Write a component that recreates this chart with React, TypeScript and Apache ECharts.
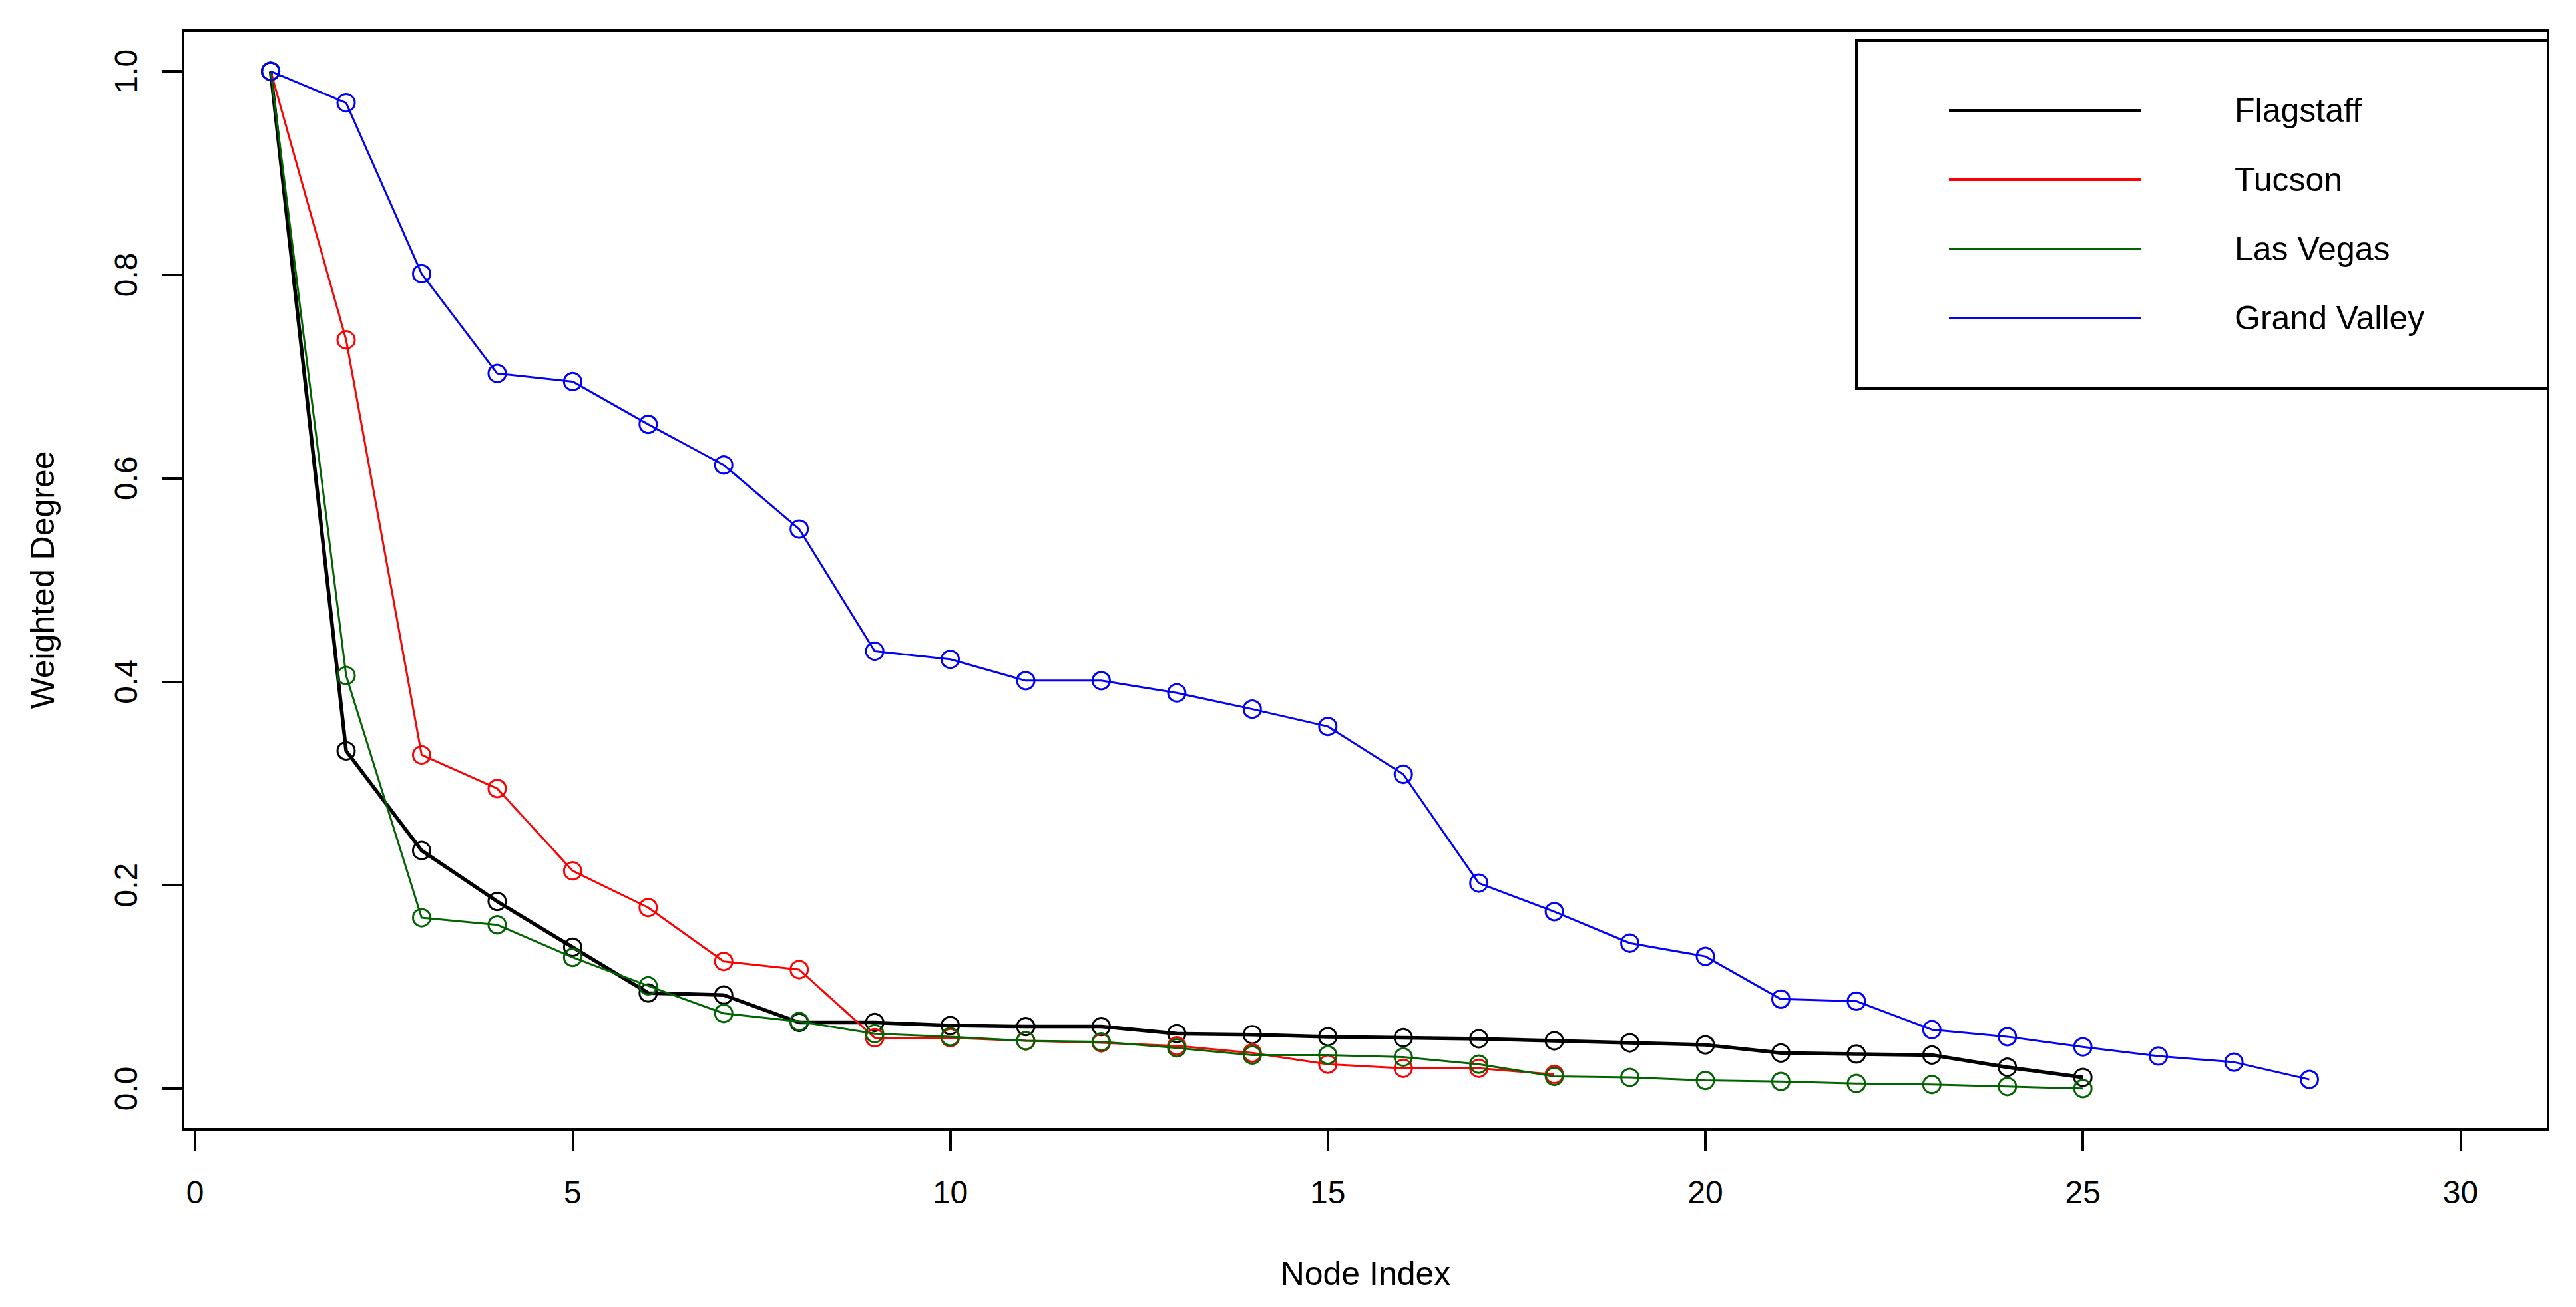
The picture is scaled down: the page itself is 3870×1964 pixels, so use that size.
import React, { useEffect, useRef } from "react";
import * as echarts from "echarts";

const seriesNames = ["Flagstaff", "Tucson", "Las Vegas", "Grand Valley"];
const seriesColors = ["#000000", "#FF0000", "#006400", "#0000FF"];
const seriesLineWidths = [5.5, 3, 3, 3];

const flagstaff = [1.0, 0.332, 0.234, 0.184, 0.139, 0.094, 0.092, 0.065, 0.065, 0.062, 0.061, 0.061, 0.054, 0.053, 0.051, 0.05, 0.049, 0.047, 0.045, 0.043, 0.035, 0.034, 0.033, 0.021, 0.011];
const tucson = [1.0, 0.736, 0.328, 0.295, 0.214, 0.178, 0.125, 0.117, 0.05, 0.05, 0.047, 0.045, 0.042, 0.035, 0.024, 0.02, 0.02, 0.014];
const lasVegas = [1.0, 0.406, 0.168, 0.161, 0.129, 0.101, 0.074, 0.066, 0.054, 0.051, 0.047, 0.046, 0.04, 0.033, 0.033, 0.031, 0.024, 0.012, 0.011, 0.008, 0.007, 0.005, 0.004, 0.002, 0.0];
const grandValley = [1.0, 0.969, 0.801, 0.703, 0.695, 0.653, 0.613, 0.55, 0.43, 0.422, 0.401, 0.401, 0.389, 0.373, 0.356, 0.309, 0.202, 0.174, 0.143, 0.13, 0.088, 0.086, 0.058, 0.051, 0.041, 0.032, 0.026, 0.009];

const allValues = [flagstaff, tucson, lasVegas, grandValley];

const xTicks = [0, 5, 10, 15, 20, 25, 30];
const yTicks = [0, 0.2, 0.4, 0.6, 0.8, 1.0];

const FONT = "Liberation Sans";

export default function App() {
  const ref = useRef<HTMLDivElement>(null);

  useEffect(() => {
    if (!ref.current) return;
    const chart = echarts.init(ref.current, undefined, { renderer: "svg" });

    const series = seriesNames.map((name, i) => ({
      type: "line",
      name,
      data: allValues[i].map((v, k) => [k + 1, v]),
      symbol: "circle",
      symbolSize: 26,
      silent: true,
      itemStyle: {
        color: "rgba(0,0,0,0)",
        borderColor: seriesColors[i],
        borderWidth: 3,
      },
      lineStyle: { color: seriesColors[i], width: seriesLineWidths[i] },
      emphasis: { disabled: true },
      z: 2 + i,
    }));

    chart.setOption({
      animation: false,
      backgroundColor: "#ffffff",
      grid: {
        left: 275,
        right: 42,
        top: 46,
        bottom: 267,
        show: true,
        borderColor: "#000",
        borderWidth: 4,
        backgroundColor: "transparent",
      },
      xAxis: {
        type: "value",
        min: -0.16,
        max: 31.16,
        axisLine: { show: false, onZero: false },
        splitLine: { show: false },
        axisTick: {
          show: true,
          inside: false,
          length: 33,
          lineStyle: { color: "#000", width: 4 },
          customValues: xTicks,
        },
        axisLabel: {
          customValues: xTicks,
          fontSize: 48,
          color: "#000",
          fontFamily: FONT,
          margin: 70,
        },
        name: "Node Index",
        nameLocation: "middle",
        nameGap: 192,
        nameTextStyle: { fontSize: 50, color: "#000", fontFamily: FONT },
      },
      yAxis: {
        type: "value",
        min: -0.04,
        max: 1.04,
        axisLine: { show: false, onZero: false },
        splitLine: { show: false },
        axisTick: {
          show: true,
          inside: false,
          length: 31,
          lineStyle: { color: "#000", width: 4 },
          customValues: yTicks,
        },
        axisLabel: {
          customValues: yTicks,
          rotate: 90,
          fontSize: 48,
          color: "#000",
          fontFamily: FONT,
          margin: 62,
          formatter: (v: number) => v.toFixed(1),
        },
        name: "Weighted Degree",
        nameLocation: "middle",
        nameGap: 186,
        nameTextStyle: { fontSize: 50, color: "#000", fontFamily: FONT },
      },
      legend: {
        orient: "vertical",
        left: 2928,
        top: 141,
        padding: 0,
        itemWidth: 288,
        itemHeight: 4,
        itemGap: 54,
        icon: "rect",
        selectedMode: false,
        textStyle: {
          fontSize: 50,
          lineHeight: 50,
          color: "#000",
          fontFamily: FONT,
          padding: [0, 0, 0, 136],
        },
        data: seriesNames.map((n, i) => ({
          name: n,
          itemStyle: { color: seriesColors[i], borderWidth: 0 },
        })),
      },
      graphic: [
        {
          type: "rect",
          shape: { x: 2789, y: 61, width: 1039, height: 523 },
          style: { fill: "none", stroke: "#000", lineWidth: 4 },
          z: 1,
          silent: true,
        },
      ],
      series,
    });

    return () => chart.dispose();
  }, []);

  return (
    <div
      ref={ref}
      style={{ position: "absolute", left: 0, top: 0, width: 3870, height: 1964 }}
    />
  );
}
